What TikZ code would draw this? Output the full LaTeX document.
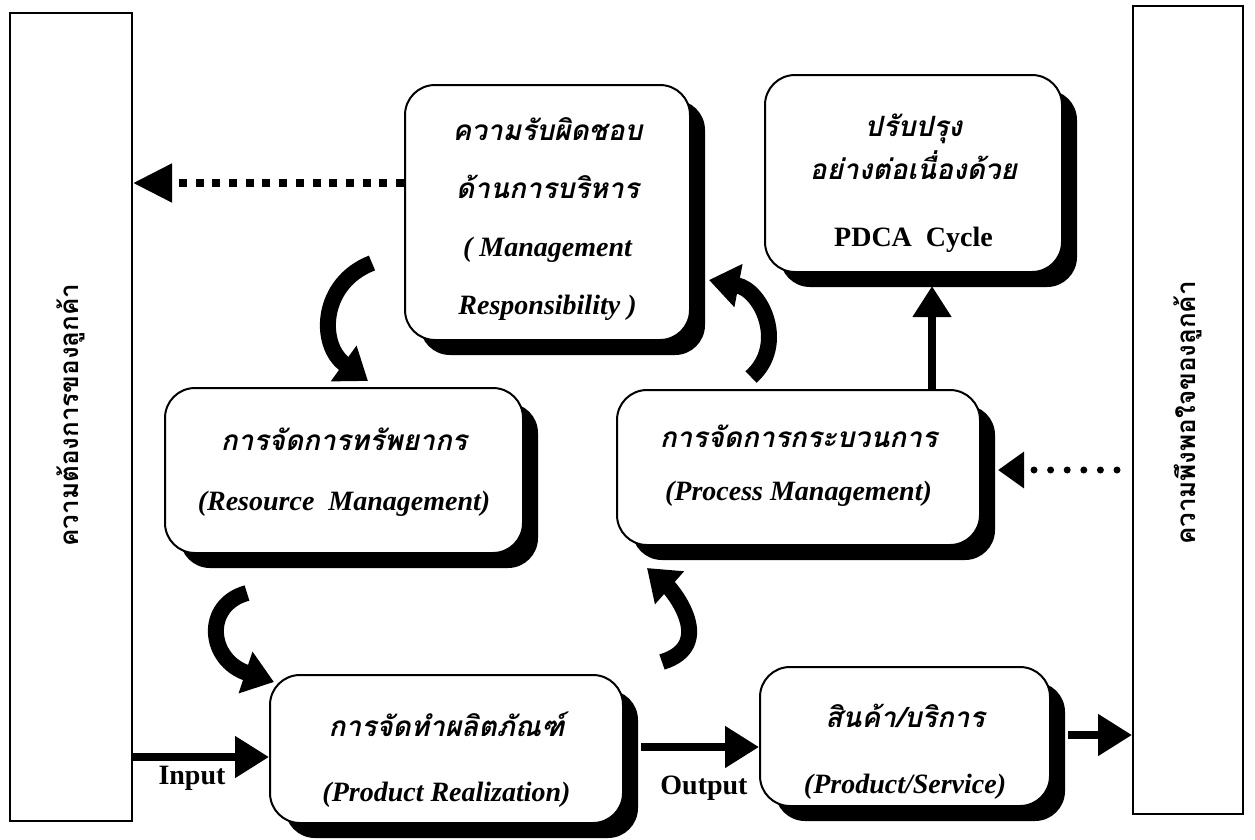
\documentclass[tikz,border=0pt]{standalone}
\usepackage{fontspec}
\setmainfont{Liberation Serif}
\newfontfamily\thaifont[Script=Thai]{Loma}
\usetikzlibrary{arrows.meta,shadows,calc}
\newcommand\thbi[1]{{\thaifont\bfseries\itshape #1}}
\newcommand\thbu[1]{{\thaifont\bfseries #1}}
\newcommand\enbi[1]{{\bfseries\itshape #1}}
\begin{document}
\begin{tikzpicture}[x=1pt,y=-1pt,
  box/.style={draw, line width=2pt, rounded corners=30pt, fill=white, inner sep=0pt,
     drop shadow={shadow xshift=15pt, shadow yshift=-15pt, fill=black, opacity=1}},
  boxtext/.style={align=center, inner sep=0pt},
  sidebox/.style={draw, line width=2pt, inner sep=0pt},
  sidetext/.style={rotate=90, inner sep=0pt, font=\fontsize{26}{30}\selectfont},
  flow/.style={line width=8pt, -{Triangle[length=34pt,width=40pt]}},
  curvearrow/.style={line width=16pt, -{Triangle[length=30pt,width=42pt]}},
  sqdots/.style={line width=8pt, dash pattern=on 8pt off 8.7pt, -{Triangle[length=39pt,width=37pt]}},
  rdots/.style={line width=7pt, line cap=round, dash pattern=on 0pt off 16.6pt, -{Triangle[length=26pt,width=35pt]}},
  lbl/.style={font=\fontsize{28}{30}\selectfont\bfseries, inner sep=0pt}
]
\useasboundingbox[fill=white] (0,0) rectangle (1255,839);

% side boxes
\node[sidebox, minimum width=122pt, minimum height=808pt] (need) at (71,417) {};
\node[sidebox, minimum width=110pt, minimum height=808pt] (satis) at (1188,410) {};
\node[sidetext] (needtxt) at (71,415) {\thbu{ความต้องการของลูกค้า}};
\node[sidetext] (satistxt) at (1188,413) {\thbu{ความพึงพอใจของลูกค้า}};

% boxes
\node[box, minimum width=285pt, minimum height=255pt] (mgmt) at (547.5,212.5) {};
\node[boxtext, font=\fontsize{28}{58}\selectfont] (mgmttxt) at ([yshift=-7pt]mgmt.center)
  {\thbi{ความรับผิดชอบ}\\\thbi{ด้านการบริหาร}\\\enbi{( Management}\\\enbi{Responsibility )}};
\node[box, minimum width=297pt, minimum height=197pt] (pdca) at (913.5,173.5) {};
\node[boxtext, font=\fontsize{28}{43}\selectfont] (pdcatxt) at ([yshift=-10pt]pdca.center)
  {\thbi{ปรับปรุง}\\\thbi{อย่างต่อเนื่องด้วย}\\[24pt]{\bfseries PDCA\ \ Cycle}};
\node[box, minimum width=358pt, minimum height=165pt] (resource) at (344,470.5) {};
\node[boxtext, font=\fontsize{28}{60}\selectfont] (resourcetxt) at ([yshift=-2pt]resource.center)
  {\thbi{การจัดการทรัพยากร}\\\enbi{(Resource\ \ Management)}};
\node[box, minimum width=363pt, minimum height=155pt] (process) at (798.5,467.5) {};
\node[boxtext, font=\fontsize{28}{53}\selectfont] (processtxt) at ([yshift=2pt]process.center)
  {\thbi{การจัดการกระบวนการ}\\\enbi{(Process Management)}};
\node[box, minimum width=353pt, minimum height=148pt] (product) at (446.5,749) {};
\node[boxtext, font=\fontsize{28}{65}\selectfont] (producttxt) at ([yshift=-11pt]product.center)
  {\thbi{การจัดทำผลิตภัณฑ์}\\\enbi{(Product Realization)}};
\node[box, minimum width=290pt, minimum height=139pt] (service) at (905,736.5) {};
\node[boxtext, font=\fontsize{28}{66}\selectfont] (servicetxt) at ([yshift=-15pt]service.center)
  {\thbi{สินค้า/บริการ}\\\enbi{(Product/Service)}};

% dotted arrows
\coordinate (d1) at ([yshift=29.5pt]mgmt.west);
\draw[sqdots] (d1) -- (d1 -| need.east);
\coordinate (d2) at ([xshift=17pt,yshift=-2.5pt]process.east);
\draw[rdots, shorten <=15pt] (d2 -| satis.west) -- (d2);

% straight arrows
\coordinate (p3) at ([xshift=18.5pt,yshift=-13pt]pdca.south);
\draw[line width=8pt, -{Triangle[length=31pt,width=37pt]}] (p3 |- process.north) -- (p3);
\coordinate (p4) at ([yshift=-8pt]product.west);
\draw[flow] (p4 -| need.east) -- (p4);
\coordinate (p5) at ([xshift=17pt,yshift=2pt]product.east);
\draw[flow] (p5) -- (p5 -| service.west);
\coordinate (p6) at ([xshift=17pt,yshift=1.5pt]service.east);
\draw[flow] (p6) -- (p6 -| satis.west);

\node[lbl] (inlbl) at (192,778) {Input};
\node[lbl] (outlbl) at (704,788) {Output};

% curved arrows (cycle)
\coordinate (c1) at (372,263);
\draw[curvearrow] (c1) .. controls (320,283) and (318,345) .. ([xshift=24pt,yshift=6pt]resource.north);
\coordinate (c3) at (247,593);
\draw[curvearrow] (c3) .. controls (203,605) and (208,660) .. ([xshift=5pt,yshift=-8pt]product.north west);
\coordinate (c4) at (662,662);
\draw[curvearrow] (c4) .. controls (717,645) and (672,590) .. ([xshift=31pt,yshift=-22pt]process.south west);
\coordinate (c2) at (751,377);
\draw[curvearrow] (c2) .. controls (787,345) and (762,290) .. ([xshift=18pt,yshift=-67.5pt]mgmt.east);
\end{tikzpicture}
\end{document}
